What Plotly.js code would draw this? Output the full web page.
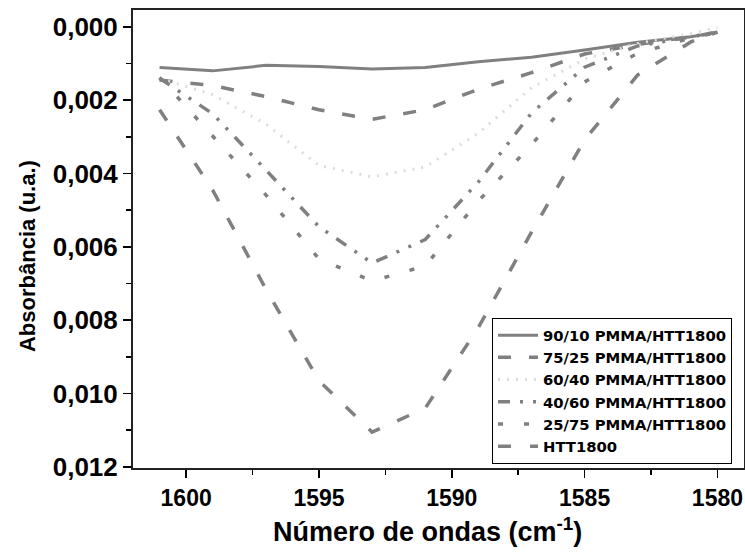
<!DOCTYPE html>
<html>
<head>
<meta charset="utf-8">
<script src="https://cdn.plot.ly/plotly-3.0.1.min.js"></script>
<style>html,body{margin:0;padding:0;background:#fff}</style>
</head>
<body>
<div id="chart" style="width:745px;height:555px"></div>
<script>
// Wavenumber (cm-1)
const wavenumber = [1601, 1599, 1597, 1595, 1593, 1591, 1589, 1587, 1585, 1583, 1581, 1580];
// Absorbance series (u.a.)
const s90_10 = [0.00111, 0.00120, 0.00105, 0.00108, 0.00115, 0.00111, 0.00095, 0.00083, 0.00063, 0.00042, 0.00027, 0.00015];
const s75_25 = [0.00145, 0.00160, 0.00190, 0.00226, 0.00252, 0.00226, 0.00170, 0.00125, 0.00074, 0.00048, 0.00027, 0.00015];
const s60_40 = [0.00140, 0.00185, 0.00265, 0.00378, 0.00409, 0.00382, 0.00290, 0.00166, 0.00088, 0.00045, 0.00018, 0.00002];
const s40_60 = [0.00140, 0.00237, 0.00390, 0.00545, 0.00644, 0.00580, 0.00423, 0.00235, 0.00110, 0.00052, 0.00027, 0.00014];
const s25_75 = [0.00138, 0.00297, 0.00458, 0.00633, 0.00693, 0.00652, 0.00475, 0.00322, 0.00150, 0.00072, 0.00030, 0.00015];
const sHTT = [0.00226, 0.00445, 0.00715, 0.00965, 0.01105, 0.01040, 0.00820, 0.00560, 0.00308, 0.00131, 0.00041, 0.00014];
const seriesNames = ['90/10 PMMA/HTT1800', '75/25 PMMA/HTT1800', '60/40 PMMA/HTT1800', '40/60 PMMA/HTT1800', '25/75 PMMA/HTT1800', 'HTT1800'];
const xTicks = [1600, 1595, 1590, 1585, 1580];
const xTickText = ['1600', '1595', '1590', '1585', '1580'];
const xTitle = 'Número de ondas (cm<sup>-1</sup>)';
const yTitle = 'Absorbância (u.a.)';

const gray = '#808080';
const styles = [
  {color: gray, width: 3, dash: 'solid'},
  {color: gray, width: 3.5, dash: '13px,18px'},
  {color: '#dcdcdc', width: 3, dash: '2px,7px'},
  {color: gray, width: 3.5, dash: '12px,10px,3px,10px,3px,10px'},
  {color: gray, width: 3.5, dash: '5px,21px'},
  {color: gray, width: 3.5, dash: '13px,19px'}
];
const ys = [s90_10, s75_25, s60_40, s40_60, s25_75, sHTT];
const traces = ys.map((y, i) => ({
  x: wavenumber, y: y, type: 'scatter', mode: 'lines',
  name: seriesNames[i], line: styles[i]
}));

const ARIAL = 'Liberation Sans, Arial, sans-serif';
const layout = {
  width: 745, height: 555,
  margin: {l: 133, r: 1, t: 10, b: 87, pad: 0},
  paper_bgcolor: '#fff', plot_bgcolor: '#fff',
  separators: ',.',
  showlegend: true,
  font: {family: ARIAL, color: '#000'},
  xaxis: {
    range: [1602, 1579], tickmode: 'array', tickvals: xTicks, ticktext: xTickText,
    ticks: 'outside', ticklen: 8, tickwidth: 1.5, tickcolor: '#000',
    minor: {dtick: 2.5, tick0: 1580, ticks: 'outside', ticklen: 5, tickwidth: 1.5, tickcolor: '#000'},
    showline: true, linewidth: 2, linecolor: '#222', mirror: true,
    showgrid: false, zeroline: false,
    tickfont: {family: ARIAL, size: 23, color: '#000', weight: 700}
  },
  yaxis: {
    range: [0.01203, -0.00046], dtick: 0.002, tick0: 0, tickformat: '.3f', ticks: 'outside', ticklen: 8, tickwidth: 1.5, tickcolor: '#000',
    minor: {dtick: 0.001, tick0: 0, ticks: 'outside', ticklen: 5, tickwidth: 1.5, tickcolor: '#000'},
    showline: true, linewidth: 2, linecolor: '#222', mirror: true,
    showgrid: false, zeroline: false,
    tickfont: {family: ARIAL, size: 26, color: '#000', weight: 700}
  },
  annotations: [
    {text: xTitle, xref: 'paper', yref: 'paper', x: 0.4828, y: -0.1354, xanchor: 'center', yanchor: 'middle',
     showarrow: false, font: {family: ARIAL, size: 27, weight: 700, color: '#000'}},
    {text: yTitle, xref: 'paper', yref: 'paper', x: -0.1735, y: 0.4628, xanchor: 'center', yanchor: 'middle',
     textangle: -90, showarrow: false, font: {family: ARIAL, size: 22, weight: 700, color: '#000'}}
  ],
  legend: {
    x: 0.5876, y: 0.3275, xanchor: 'left', yanchor: 'top',
    bgcolor: '#fff', bordercolor: '#000', borderwidth: 1,
    font: {family: 'DejaVu Sans, sans-serif', size: 14.8, weight: 700, color: '#000'},
    itemwidth: 40, tracegroupgap: 0
  }
};
Plotly.newPlot('chart', traces, layout, {displayModeBar: false, staticPlot: true});
</script>
</body>
</html>
